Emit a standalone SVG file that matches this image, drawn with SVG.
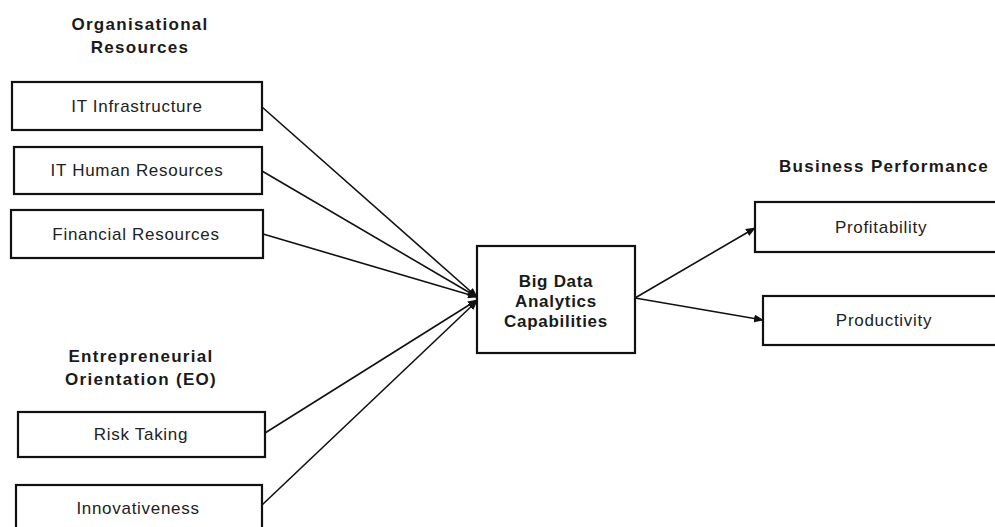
<svg xmlns="http://www.w3.org/2000/svg" width="995" height="527" viewBox="0 0 995 527">
<style>
.box{fill:#fff;stroke:#111;stroke-width:2.2}
.t{font-family:"Liberation Sans",Arial,sans-serif;font-size:17px;letter-spacing:0.7px;fill:#222;text-anchor:middle}
.h{font-family:"Liberation Sans",Arial,sans-serif;font-size:17px;letter-spacing:1.3px;font-weight:bold;fill:#1a1a1a;text-anchor:middle}
.b{font-family:"Liberation Sans",Arial,sans-serif;font-size:17px;letter-spacing:0.7px;font-weight:bold;fill:#1a1a1a;text-anchor:middle}
.c{stroke:#111;stroke-width:1.6;fill:none;marker-end:url(#ah)}
</style>
<defs>
<marker id="ah" markerWidth="10" markerHeight="8" refX="9" refY="4" orient="auto" markerUnits="userSpaceOnUse">
<path d="M0,0 L10,4 L0,8 Z" fill="#111"/>
</marker>
</defs>
<rect width="995" height="527" fill="#fff"/>
<g id="headings">
<text class="h" x="140" y="30">Organisational</text>
<text class="h" x="140" y="53">Resources</text>
<text class="h" x="141" y="362">Entrepreneurial</text>
<text class="h" x="141" y="385">Orientation (EO)</text>
<text class="h" x="884" y="172">Business Performance</text>
</g>
<g id="connectors">
<line class="c" x1="262" y1="107" x2="477" y2="297"/>
<line class="c" x1="262" y1="171" x2="477" y2="297"/>
<line class="c" x1="263" y1="234" x2="477" y2="297"/>
<line class="c" x1="265" y1="433" x2="477" y2="300"/>
<line class="c" x1="262" y1="505" x2="477" y2="301"/>
<line class="c" x1="635" y1="298" x2="755" y2="228"/>
<line class="c" x1="635" y1="298" x2="763" y2="320"/>
</g>
<g id="it-infrastructure"><rect class="box" x="12" y="82" width="250" height="48"/><text class="t" x="137" y="112">IT Infrastructure</text></g>
<g id="it-human-resources"><rect class="box" x="14" y="147" width="248" height="47"/><text class="t" x="137" y="176">IT Human Resources</text></g>
<g id="financial-resources"><rect class="box" x="11" y="210" width="252" height="48"/><text class="t" x="136" y="240">Financial Resources</text></g>
<g id="risk-taking"><rect class="box" x="18" y="412" width="247" height="45"/><text class="t" x="141" y="440">Risk Taking</text></g>
<g id="innovativeness"><rect class="box" x="16" y="485" width="246" height="50"/><text class="t" x="138" y="514">Innovativeness</text></g>
<g id="bda"><rect class="box" x="477" y="246" width="158" height="107"/>
<text class="b" x="556" y="287">Big Data</text>
<text class="b" x="556" y="307">Analytics</text>
<text class="b" x="556" y="327">Capabilities</text></g>
<g id="profitability"><rect class="box" x="755" y="202" width="250" height="50"/><text class="t" x="881" y="233">Profitability</text></g>
<g id="productivity"><rect class="box" x="763" y="296" width="242" height="49"/><text class="t" x="884" y="326">Productivity</text></g>
</svg>
